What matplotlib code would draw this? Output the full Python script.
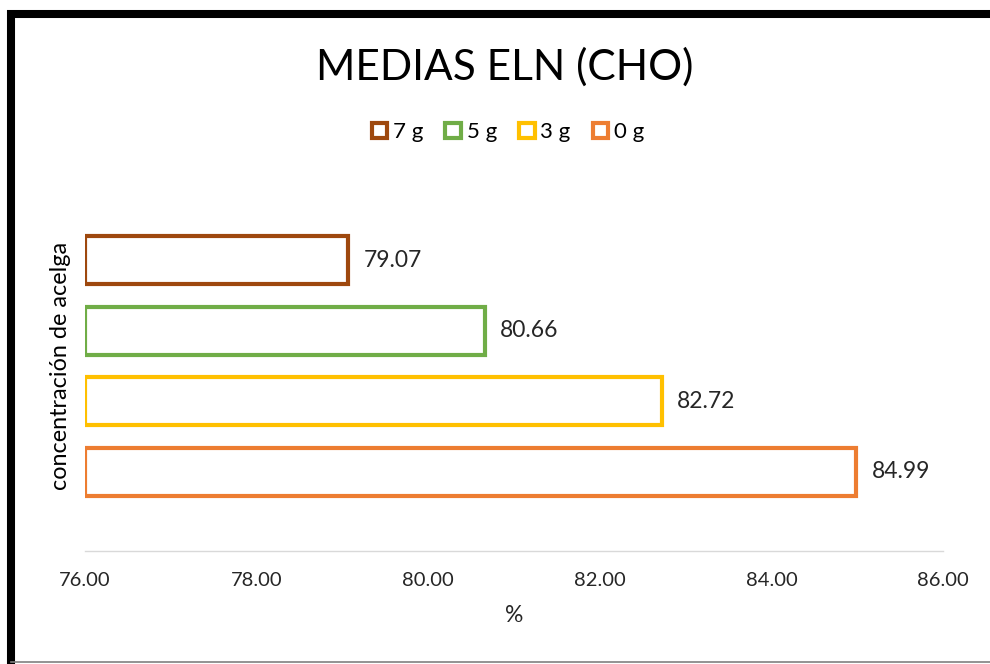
import matplotlib.pyplot as plt
from matplotlib.lines import Line2D

plt.rcParams['font.family'] = ['Lato', 'DejaVu Sans']

# datos (de arriba hacia abajo)
labels = ["7 g", "5 g", "3 g", "0 g"]
values = [79.07, 80.66, 82.72, 84.99]
colors = ["#9E480E", "#70AD47", "#FFC000", "#ED7D31"]
xticks = [76, 78, 80, 82, 84, 86]

fig = plt.figure(figsize=(9.9, 6.64), dpi=100)
ax = fig.add_axes([0.0859, 0.1702, 0.8666, 0.5572])

x0 = xticks[0]
n = len(values)
handles = []
for i, (lab, v, c) in enumerate(zip(labels, values, colors)):
    pos = n - 1 - i
    b = ax.barh(pos, v - x0, left=x0, height=0.68, facecolor="white",
                edgecolor=c, linewidth=3, label=lab)
    handles.append(b)
    ax.annotate(f"{v:.2f}", (v, pos), xytext=(11, 0), textcoords="offset points",
                va="center", ha="left", fontsize=16.5, color="#262626")

ax.set_xlim(xticks[0], xticks[-1])
ax.set_ylim(-1.118, n - 1 + 1.118)
ax.set_xticks(xticks)
ax.set_xticklabels([f"{t:.2f}" for t in xticks], fontsize=14.5, color="#262626")
ax.set_yticks([])
ax.tick_params(axis="x", length=0, pad=15)
for s in ["top", "right", "left"]:
    ax.spines[s].set_visible(False)
ax.spines["bottom"].set_color("#D9D9D9")
ax.spines["bottom"].set_linewidth(1)

ax.set_xlabel("%", fontsize=16.5, color="#262626", labelpad=12)
ax.set_ylabel("concentración de acelga", fontsize=16.8, color="#000000", labelpad=10)

fig.text(0.51, 0.899, "MEDIAS ELN (CHO)", ha="center", va="center",
         fontsize=30.5, color="#000000")

fig.legend(handles=handles, loc="center", bbox_to_anchor=(0.513, 0.801), ncol=4,
           frameon=False, fontsize=16, handlelength=0.7, handleheight=0.7,
           handletextpad=0.25, columnspacing=1.0)

# marco negro
fig.add_artist(Line2D([0.007, 1.0], [0.9789, 0.9789], color="black", lw=5.8,
                      solid_capstyle="butt"))
fig.add_artist(Line2D([0.0111, 0.0111], [0.0, 0.985], color="black", lw=5.8,
                      solid_capstyle="butt"))
fig.add_artist(Line2D([0.0111, 1.0], [0.003, 0.003], color="#808080", lw=1.2))

fig.savefig("out.png", dpi=100)
